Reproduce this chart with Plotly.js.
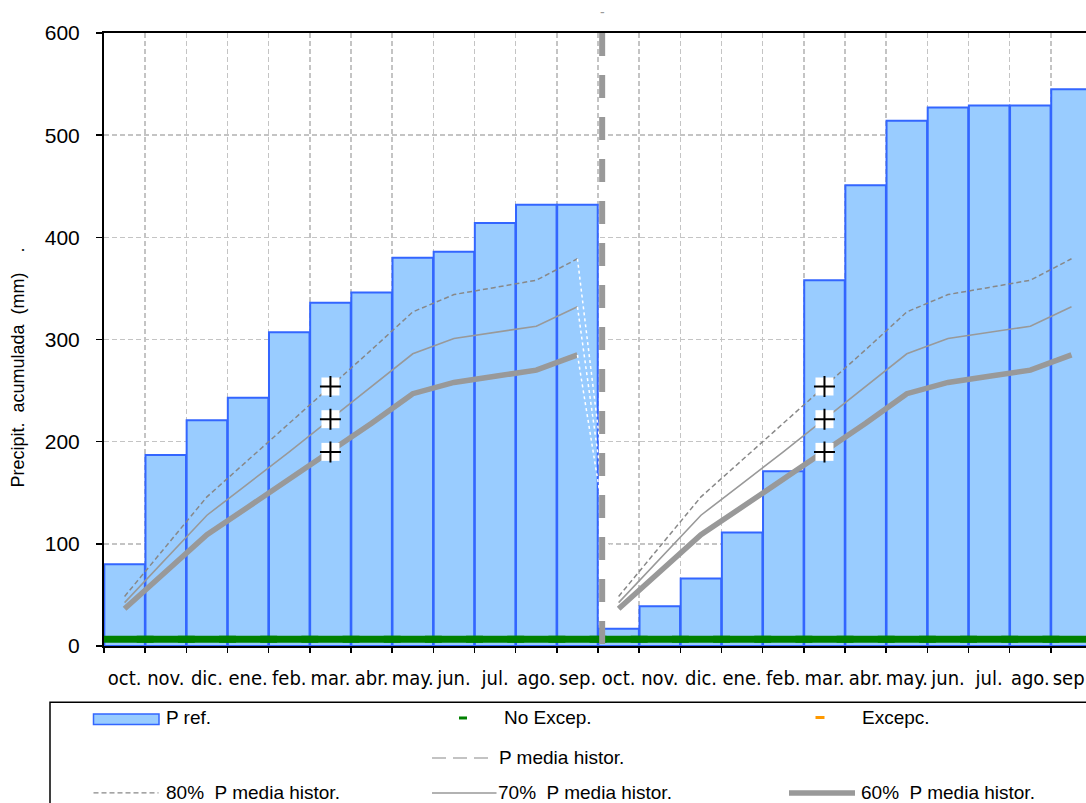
<!DOCTYPE html>
<html>
<head>
<meta charset="utf-8">
<script src="https://cdn.plot.ly/plotly-3.0.1.min.js"></script>
<style>
  html, body { margin: 0; padding: 0; background: #ffffff; }
  #chart { width: 1086px; height: 803px; }
</style>
</head>
<body>
<div id="chart"></div>
<script>
// Hydrological-year months (October to September)
const months = ['oct.', 'nov.', 'dic.', 'ene.', 'feb.', 'mar.', 'abr.', 'may.', 'jun.', 'jul.', 'ago.', 'sep.'];

// Accumulated reference precipitation (mm), two consecutive hydrological years
const pRefYear1 = [80, 187, 221, 243, 307, 336, 346, 380, 386, 414, 432, 432];
const pRefYear2 = [17, 39, 66, 111, 171, 358, 451, 514, 527, 529, 529, 545];

// Thresholds as fractions of the accumulated historical mean (mm)
const p80 = [48.5, 97, 146, 182, 218, 254, 290, 327, 344, 351, 358, 379];
const p70 = [42.5, 85, 128, 159, 190, 222, 254, 286, 301, 307, 313, 332];
const p60 = [36.5, 73, 109, 136, 163, 190, 218, 247, 258, 264, 270, 285];

// Monthly status flags (1 = no exceptional situation)
const noExcep = [1, 1, 1, 1, 1, 1, 1, 1, 1, 1, 1, 1,
                 1, 1, 1, 1, 1, 1, 1, 1, 1, 1, 1, 1];

// Month index of the threshold check markers in each year
const checkMonth = 5;

const GRAY = '#999999';
const BAR_FILL = '#99CCFF';
const BAR_LINE = '#3366FF';
const GREEN = '#008000';
const ORANGE = '#FF9900';

const xs1 = months.map((_, i) => i + 0.5);
const xs2 = months.map((_, i) => i + 12.5);
const allX = xs1.concat(xs2);

const traces = [];

// Reference precipitation bars
traces.push({
  type: 'bar', x: allX, y: pRefYear1.concat(pRefYear2), width: 0.985,
  marker: { color: BAR_FILL, line: { color: BAR_LINE, width: 2 } },
  hoverinfo: 'x+y', showlegend: false
});

// Threshold curves: first year, a white dotted link, then the second year
const curves = [
  { y: p80, line: { color: '#888888', width: 1.5, dash: '5px,3px' } },
  { y: p70, line: { color: GRAY, width: 1.6 } },
  { y: p60, line: { color: GRAY, width: 5.5 } }
];
curves.forEach(c => {
  traces.push({ type: 'scatter', mode: 'lines', x: xs1, y: c.y, line: c.line, showlegend: false, hoverinfo: 'y' });
  traces.push({ type: 'scatter', mode: 'lines', x: [xs1[11], xs2[0]], y: [c.y[11], c.y[0]],
                line: { color: '#ffffff', width: 1.5, dash: 'dot' }, showlegend: false, hoverinfo: 'skip' });
  traces.push({ type: 'scatter', mode: 'lines', x: xs2, y: c.y, line: c.line, showlegend: false, hoverinfo: 'y' });
});

// Status band along the base of the chart
traces.push({
  type: 'scatter', mode: 'markers', x: allX, y: noExcep.map(() => 6.5),
  marker: { symbol: 'line-ew', size: 41.5, line: { color: GREEN, width: 7 } },
  showlegend: false, hoverinfo: 'skip'
});

// Check markers at the 80/70/60 % thresholds
const mx = [xs1[checkMonth], xs1[checkMonth], xs1[checkMonth], xs2[checkMonth], xs2[checkMonth], xs2[checkMonth]];
const my = [p60[checkMonth], p70[checkMonth], p80[checkMonth], p60[checkMonth], p70[checkMonth], p80[checkMonth]];
traces.push({ type: 'scatter', mode: 'markers', x: mx, y: my,
  marker: { symbol: 'square', size: 18, color: '#ffffff', line: { width: 0 } }, showlegend: false, hoverinfo: 'skip' });
traces.push({ type: 'scatter', mode: 'markers', x: mx, y: my,
  marker: { symbol: 'cross-thin', size: 15, line: { color: '#000000', width: 2 } }, showlegend: false, hoverinfo: 'y' });

// Plot area frame in pixels, used to place the legend block
const L = 104, T = 33.3, R = 1086, B = 646.5;
const W = R - L, H = B - T;
const px = v => (v - L) / W;
const py = v => (B - v) / H;

const LEG_FONT = { family: 'Liberation Sans, Arial, sans-serif', size: 19, color: '#000000' };

const shapes = [
  // year divider
  { type: 'line', xref: 'x', yref: 'y', x0: 12.1, x1: 12.1, y0: 600, y1: 0,
    line: { color: GRAY, width: 6, dash: '23px,19px' }, layer: 'above' },
  // legend frame
  { type: 'rect', xref: 'paper', yref: 'paper', x0: px(50), x1: px(1120), y0: py(702.7), y1: py(840),
    line: { color: '#000000', width: 1.5 }, fillcolor: 'rgba(0,0,0,0)' },
  // legend symbols
  { type: 'rect', xref: 'paper', yref: 'paper', x0: px(93.5), x1: px(159), y0: py(714.5), y1: py(725),
    line: { color: BAR_LINE, width: 1.5 }, fillcolor: BAR_FILL },
  { type: 'line', xref: 'paper', yref: 'paper', x0: px(459), x1: px(467), y0: py(718.5), y1: py(718.5),
    line: { color: GREEN, width: 3 } },
  { type: 'line', xref: 'paper', yref: 'paper', x0: px(815.5), x1: px(824.5), y0: py(718), y1: py(718),
    line: { color: ORANGE, width: 3 } },
  { type: 'line', xref: 'paper', yref: 'paper', x0: px(432), x1: px(488.5), y0: py(758.5), y1: py(758.5),
    line: { color: '#B0B0B0', width: 1.5, dash: '14px,7px' } },
  { type: 'line', xref: 'paper', yref: 'paper', x0: px(93.5), x1: px(158.5), y0: py(793.5), y1: py(793.5),
    line: { color: '#888888', width: 1.2, dash: '5px,3px' } },
  { type: 'line', xref: 'paper', yref: 'paper', x0: px(432), x1: px(496.5), y0: py(793.5), y1: py(793.5),
    line: { color: GRAY, width: 1.5 } },
  { type: 'line', xref: 'paper', yref: 'paper', x0: px(789), x1: px(855), y0: py(793.5), y1: py(793.5),
    line: { color: GRAY, width: 5.5 } }
];

const legendText = [
  ['P ref.', 165, 718.5],
  ['No Excep.', 503, 718.5],
  ['Excepc.', 861, 718.5],
  ['P media histor.', 498, 758.5],
  ['80%\u00a0\u00a0P media histor.', 165, 793.5],
  ['70%\u00a0\u00a0P media histor.', 497, 793.5],
  ['60%\u00a0\u00a0P media histor.', 860, 793.5]
];

const annotations = legendText.map(([t, x, y]) => ({
  text: t, xref: 'paper', yref: 'paper', x: px(x), y: py(y), xanchor: 'left', yanchor: 'middle',
  showarrow: false, font: LEG_FONT, borderpad: 0
}));

// y-axis caption
annotations.push({
  text: 'Precipit.\u00a0\u00a0acumulada\u00a0\u00a0(mm)\u00a0\u00a0\u00a0\u00a0.',
  xref: 'paper', yref: 'paper', x: px(18), y: py(368), xanchor: 'center', yanchor: 'middle',
  textangle: -90, showarrow: false, font: { family: 'Liberation Sans, Arial, sans-serif', size: 18, color: '#000000' }
});
// small mark above the divider
annotations.push({
  text: '-', xref: 'paper', yref: 'paper', x: px(602), y: py(12.5), xanchor: 'center', yanchor: 'middle',
  showarrow: false, font: { family: 'Liberation Sans, Arial, sans-serif', size: 14, color: GRAY }
});

const layout = {
  width: 1086, height: 803,
  margin: { l: L, r: 0, t: T, b: 803 - B, pad: 0 },
  paper_bgcolor: '#ffffff', plot_bgcolor: '#ffffff',
  showlegend: false, bargap: 0,
  xaxis: {
    range: [0, W / 41.17], tickmode: 'array', tickvals: allX, ticktext: months.concat(months),
    ticks: '', showgrid: false, zeroline: false,
    showline: true, linecolor: '#000000', linewidth: 2, mirror: true,
    ticklabelstandoff: 13, ticklabeloverflow: 'allow',
    tickfont: { family: 'DejaVu Sans Condensed, DejaVu Sans, sans-serif', size: 20, color: '#000000' },
    minor: { tickmode: 'linear', tick0: 0, dtick: 1, ticks: 'outside', ticklen: 5, tickwidth: 1.5, tickcolor: '#000000',
             showgrid: true, gridcolor: '#C4C4C4', gridwidth: 1.5, griddash: '5px,3px' }
  },
  yaxis: {
    range: [0, 600], dtick: 100, tick0: 0, ticks: 'outside', ticklen: 6, tickwidth: 1.5, tickcolor: '#000000',
    showgrid: true, gridcolor: '#C4C4C4', gridwidth: 1.5, griddash: '5px,3px', zeroline: false,
    showline: true, linecolor: '#000000', linewidth: 2,
    ticklabelstandoff: 12,
    tickfont: { family: 'Liberation Sans, Arial, sans-serif', size: 21, color: '#000000' }
  },
  shapes: shapes,
  annotations: annotations
};

Plotly.newPlot('chart', traces, layout, { staticPlot: true, displayModeBar: false });
</script>
</body>
</html>
